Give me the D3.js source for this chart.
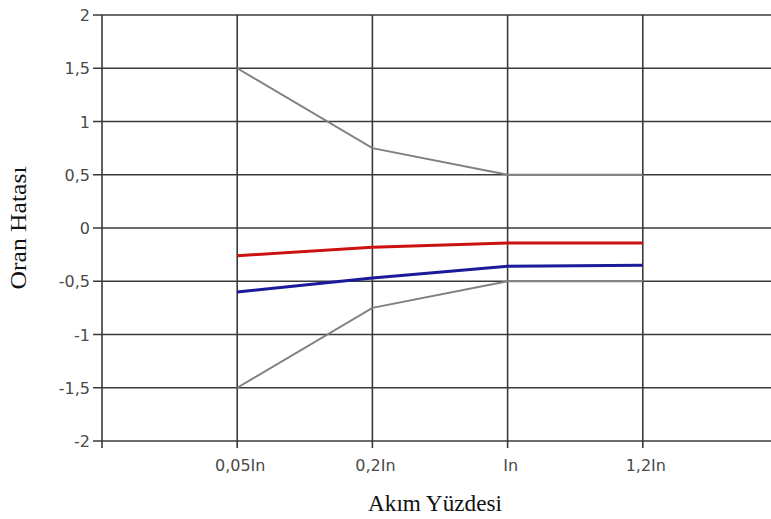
<!DOCTYPE html>
<style>
body { margin: 0; background: #fff; }
svg { display: block; }
</style>
<script src="https://d3js.org/d3.v7.min.js"></script>
<svg width="771" height="519"></svg>
<script>

var categories = ["0,05In", "0,2In", "In", "1,2In"];
var upperLimit = [1.5, 0.75, 0.5, 0.5];
var lowerLimit = [-1.5, -0.75, -0.5, -0.5];
var redSeries = [-0.26, -0.18, -0.14, -0.14];
var blueSeries = [-0.6, -0.47, -0.36, -0.35];
var yTicks = [2, 1.5, 1, 0.5, 0, -0.5, -1, -1.5, -2];

var svg = d3.select("svg");

var x = d3.scaleLinear().domain([0, 5]).range([102, 778]);
var y = d3.scaleLinear().domain([-2, 2]).range([441, 15]);
var fmt = function(d) { return String(d).replace(".", ","); };

// grid
svg.append("g").selectAll("line").data(yTicks).enter().append("line")
    .attr("x1", x(0) - 9).attr("x2", 771)
    .attr("y1", function(d) { return y(d); }).attr("y2", function(d) { return y(d); })
    .attr("stroke", "#3a3a3a").attr("stroke-width", 1.6);

svg.append("g").selectAll("line").data(d3.range(0, 5)).enter().append("line")
    .attr("x1", function(d) { return x(d); }).attr("x2", function(d) { return x(d); })
    .attr("y1", y(2)).attr("y2", y(-2) + 7)
    .attr("stroke", "#3a3a3a").attr("stroke-width", 1.6);

// tick labels
svg.append("g").selectAll("text").data(yTicks).enter().append("text")
    .attr("x", x(0) - 12).attr("y", function(d) { return y(d) + 6; })
    .attr("text-anchor", "end")
    .attr("font-family", "DejaVu Sans, sans-serif").attr("font-size", 16)
    .attr("fill", "#4a4a4a")
    .text(fmt);

svg.append("g").selectAll("text").data(categories).enter().append("text")
    .attr("x", function(d, i) { return x(i + 1) + 3; }).attr("y", 471)
    .attr("text-anchor", "middle")
    .attr("font-family", "DejaVu Sans, sans-serif").attr("font-size", 16)
    .attr("fill", "#4a4a4a")
    .text(function(d) { return d; });

// lines
var line = d3.line()
    .x(function(d, i) { return x(i + 1); })
    .y(function(d) { return y(d); });

[[upperLimit, "#808080", 2], [lowerLimit, "#808080", 2],
 [blueSeries, "#1a1a9a", 3], [redSeries, "#cc1111", 3]].forEach(function(s) {
  svg.append("path").datum(s[0])
     .attr("d", line)
     .attr("fill", "none")
     .attr("stroke", s[1])
     .attr("stroke-width", s[2]);
});

// axis titles
svg.append("text")
    .attr("transform", "translate(26," + y(0) + ") rotate(-90)")
    .attr("text-anchor", "middle")
    .attr("font-family", "Liberation Serif, Times New Roman, serif").attr("font-size", 24)
    .attr("textLength", 123).attr("lengthAdjust", "spacingAndGlyphs")
    .attr("fill", "#111")
    .text("Oran Hatası");

svg.append("text")
    .attr("x", 435).attr("y", 511)
    .attr("text-anchor", "middle")
    .attr("font-family", "Liberation Serif, Times New Roman, serif").attr("font-size", 23)
    .attr("textLength", 134).attr("lengthAdjust", "spacingAndGlyphs")
    .attr("fill", "#111")
    .text("Akım Yüzdesi");
</script>
